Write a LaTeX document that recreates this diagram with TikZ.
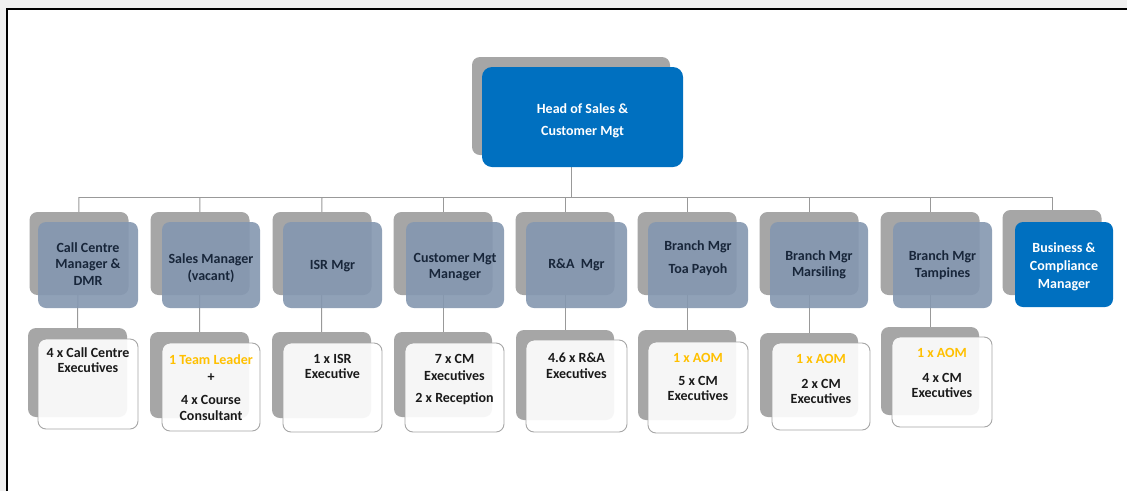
\documentclass[tikz,border=0pt]{standalone}
\usepackage{fontspec}
\setmainfont{Carlito}
\usetikzlibrary{fit}
\definecolor{shgray}{HTML}{A6A6A6}
\definecolor{mblue}{HTML}{8497B0}
\definecolor{hblue}{HTML}{0070C0}
\definecolor{mtext}{HTML}{18263A}
\definecolor{ytext}{HTML}{FFC000}
\definecolor{ltext}{HTML}{1A1A1A}
\definecolor{conncol}{HTML}{999999}
\definecolor{pagegray}{HTML}{F0F0F0}
\definecolor{lborder}{HTML}{A6A6A6}
\pgfdeclarelayer{bg}\pgfdeclarelayer{lines}\pgfsetlayers{bg,lines,main}
\begin{document}
\begin{tikzpicture}[x=1pt,y=-1pt,
  shadowbox/.style={fill=shgray, draw=none, rounded corners=8pt, inner sep=0pt},
  mgrbox/.style={fill=mblue, fill opacity=0.9, rounded corners=8pt, inner sep=0pt},
  mgrtext/.style={text=mtext, align=center, inner sep=0pt, font=\bfseries\fontsize{14}{16.5}\selectfont},
  bluebox/.style={fill=hblue, rounded corners=8pt, inner sep=0pt},
  bluetext/.style={text=white, align=center, inner sep=0pt, font=\bfseries\fontsize{14}{18}\selectfont},
  execbox/.style={fill=white, fill opacity=0.9, draw=lborder, draw opacity=1, line width=0.9pt, rounded corners=8pt, inner sep=0pt},
  exectext/.style={text=ltext, align=center, inner sep=0pt, anchor=north, font=\bfseries\fontsize{14}{15.5}\selectfont},
  conn/.style={draw=conncol, line width=1pt}]
\useasboundingbox (0,0) rectangle (1127,491);
\begin{pgfonlayer}{bg}
  \fill[pagegray] (0,0) rectangle (1127,491);
  \fill[white] (7,9) rectangle (1127,491);
  \draw[black, line width=1.2pt] (7,491) -- (7,9) -- (1127,9);
\end{pgfonlayer}

% top node
\node[shadowbox, fit={(472,57)(670,155)}] (hs) {};
\node[bluebox, rounded corners=10pt, fit={(482,67)(683,167)}] (head) {};
\node[bluetext, font=\bfseries\fontsize{14}{22}\selectfont, yshift=-4pt] (headt) at (head.center) {Head of Sales \&\\Customer Mgt};

% level 2 shadows
\node[shadowbox, fit={(29.5,212)(128.5,295)}] (s1) {};
\node[shadowbox, fit={(150.5,212)(249.5,295)}] (s2) {};
\node[shadowbox, fit={(272.5,212)(371.5,295)}] (s3) {};
\node[shadowbox, fit={(393.5,212)(492.5,295)}] (s4) {};
\node[shadowbox, fit={(515.5,212)(614.5,295)}] (s5) {};
\node[shadowbox, fit={(637.5,212)(736.5,295)}] (s6) {};
\node[shadowbox, fit={(759.5,212)(858.5,295)}] (s7) {};
\node[shadowbox, fit={(880.5,212)(979.5,295)}] (s8) {};
\node[shadowbox, fit={(1002.5,210)(1101.5,295)}] (s9) {};

% level 2 fronts
\node[mgrbox, fit={(38,222)(138,308)}] (m1) {};
\node[mgrbox, fit={(162,222)(260,308)}] (m2) {};
\node[mgrbox, fit={(283,222)(382,308)}] (m3) {};
\node[mgrbox, fit={(406,222)(504,308)}] (m4) {};
\node[mgrbox, fit={(526,222)(627,308)}] (m5) {};
\node[mgrbox, fit={(648,222)(748,308)}] (m6) {};
\node[mgrbox, fit={(770,222)(868,308)}] (m7) {};
\node[mgrbox, fit={(893,222)(992,308)}] (m8) {};
\node[bluebox, fit={(1015,222)(1113,307)}] (m9) {};

% level 2 texts
\node[mgrtext, yshift=1pt] (n1) at (m1.center) {Call Centre\\Manager \&\\DMR};
\node[mgrtext, yshift=-3pt] (n2) at (m2.center) {Sales Manager\\(vacant)};
\node[mgrtext, yshift=-1pt] (n3) at (m3.center) {ISR Mgr};
\node[mgrtext, yshift=-2pt] (n4) at (m4.center) {Customer Mgt\\Manager};
\node[mgrtext, yshift=0pt] (n5) at (m5.center) {R\&A\ \ Mgr};
\node[mgrtext, yshift=7pt] (n6) at (m6.center) {Branch Mgr\\[6.5pt]Toa Payoh};
\node[mgrtext, yshift=0pt] (n7) at (m7.center) {Branch Mgr\\Marsiling};
\node[mgrtext, yshift=0pt] (n8) at (m8.center) {Branch Mgr\\Tampines};
\node[bluetext, yshift=-2pt] (n9) at (m9.center) {Business \&\\Compliance\\Manager};

% level 3 shadows
\node[shadowbox, fit={(28,328)(127,417)}] (g1) {};
\node[shadowbox, fit={(150,332)(249,418)}] (g2) {};
\node[shadowbox, fit={(272,332)(371,418)}] (g3) {};
\node[shadowbox, fit={(394,332)(492,417)}] (g4) {};
\node[shadowbox, fit={(516,330)(614,420)}] (g5) {};
\node[shadowbox, fit={(638,330)(736,420)}] (g6) {};
\node[shadowbox, fit={(760,333)(858,417)}] (g7) {};
\node[shadowbox, fit={(881,327)(979,415)}] (g8) {};

% level 3 fronts
\node[execbox, fit={(38,339)(138,429)}] (e1) {};
\node[execbox, fit={(162,343)(260,431)}] (e2) {};
\node[execbox, fit={(283,343)(382,432)}] (e3) {};
\node[execbox, fit={(405,343)(504,432)}] (e4) {};
\node[execbox, fit={(526,340)(627,432)}] (e5) {};
\node[execbox, fit={(648,342)(748,433)}] (e6) {};
\node[execbox, fit={(772,343)(870,430)}] (e7) {};
\node[execbox, fit={(892,337)(992,427)}] (e8) {};

% level 3 texts
\node[exectext] (t1) at (e1.north |- 0,347) {4 x Call Centre\\Executives};
\node[exectext] (t2) at (e2.north |- 0,354) {\textcolor{ytext}{1 Team Leader}\\[1.5pt]+\\[8pt]4 x Course\\Consultant};
\node[exectext] (t3) at (e3.north |- 0,354) {1 x ISR\\Executive};
\node[exectext] (t4) at (e4.north |- 0,354) {7 x CM\\[1.5pt]Executives\\[7pt]2 x Reception};
\node[exectext] (t5) at (e5.north |- 0,353) {4.6 x R\&A\\Executives};
\node[exectext] (t6) at (e6.north |- 0,353) {\textcolor{ytext}{1 x AOM}\\[7.5pt]5 x CM\\Executives};
\node[exectext] (t7) at (e7.north |- 0,354) {\textcolor{ytext}{1 x AOM}\\[9.5pt]2 x CM\\Executives};
\node[exectext] (t8) at (e8.north |- 0,348) {\textcolor{ytext}{1 x AOM}\\[9.5pt]4 x CM\\Executives};

% connectors
\begin{pgfonlayer}{lines}
  \coordinate (j) at (571,197);
  \draw[conn] (hs.south) -- (j);
  \draw[conn] (s1.north |- j) -- (s9.north |- j);
  \draw[conn] (s1.north |- j) -- (g1.north);
  \draw[conn] (s2.north |- j) -- (g2.north);
  \draw[conn] (s3.north |- j) -- (g3.north);
  \draw[conn] (s4.north |- j) -- (g4.north);
  \draw[conn] (s5.north |- j) -- (g5.north);
  \draw[conn] (s6.north |- j) -- (g6.north);
  \draw[conn] (s7.north |- j) -- (g7.north);
  \draw[conn] (s8.north |- j) -- (g8.north);
  \draw[conn] (s9.north |- j) -- (s9.north);
\end{pgfonlayer}
\end{tikzpicture}
\end{document}
